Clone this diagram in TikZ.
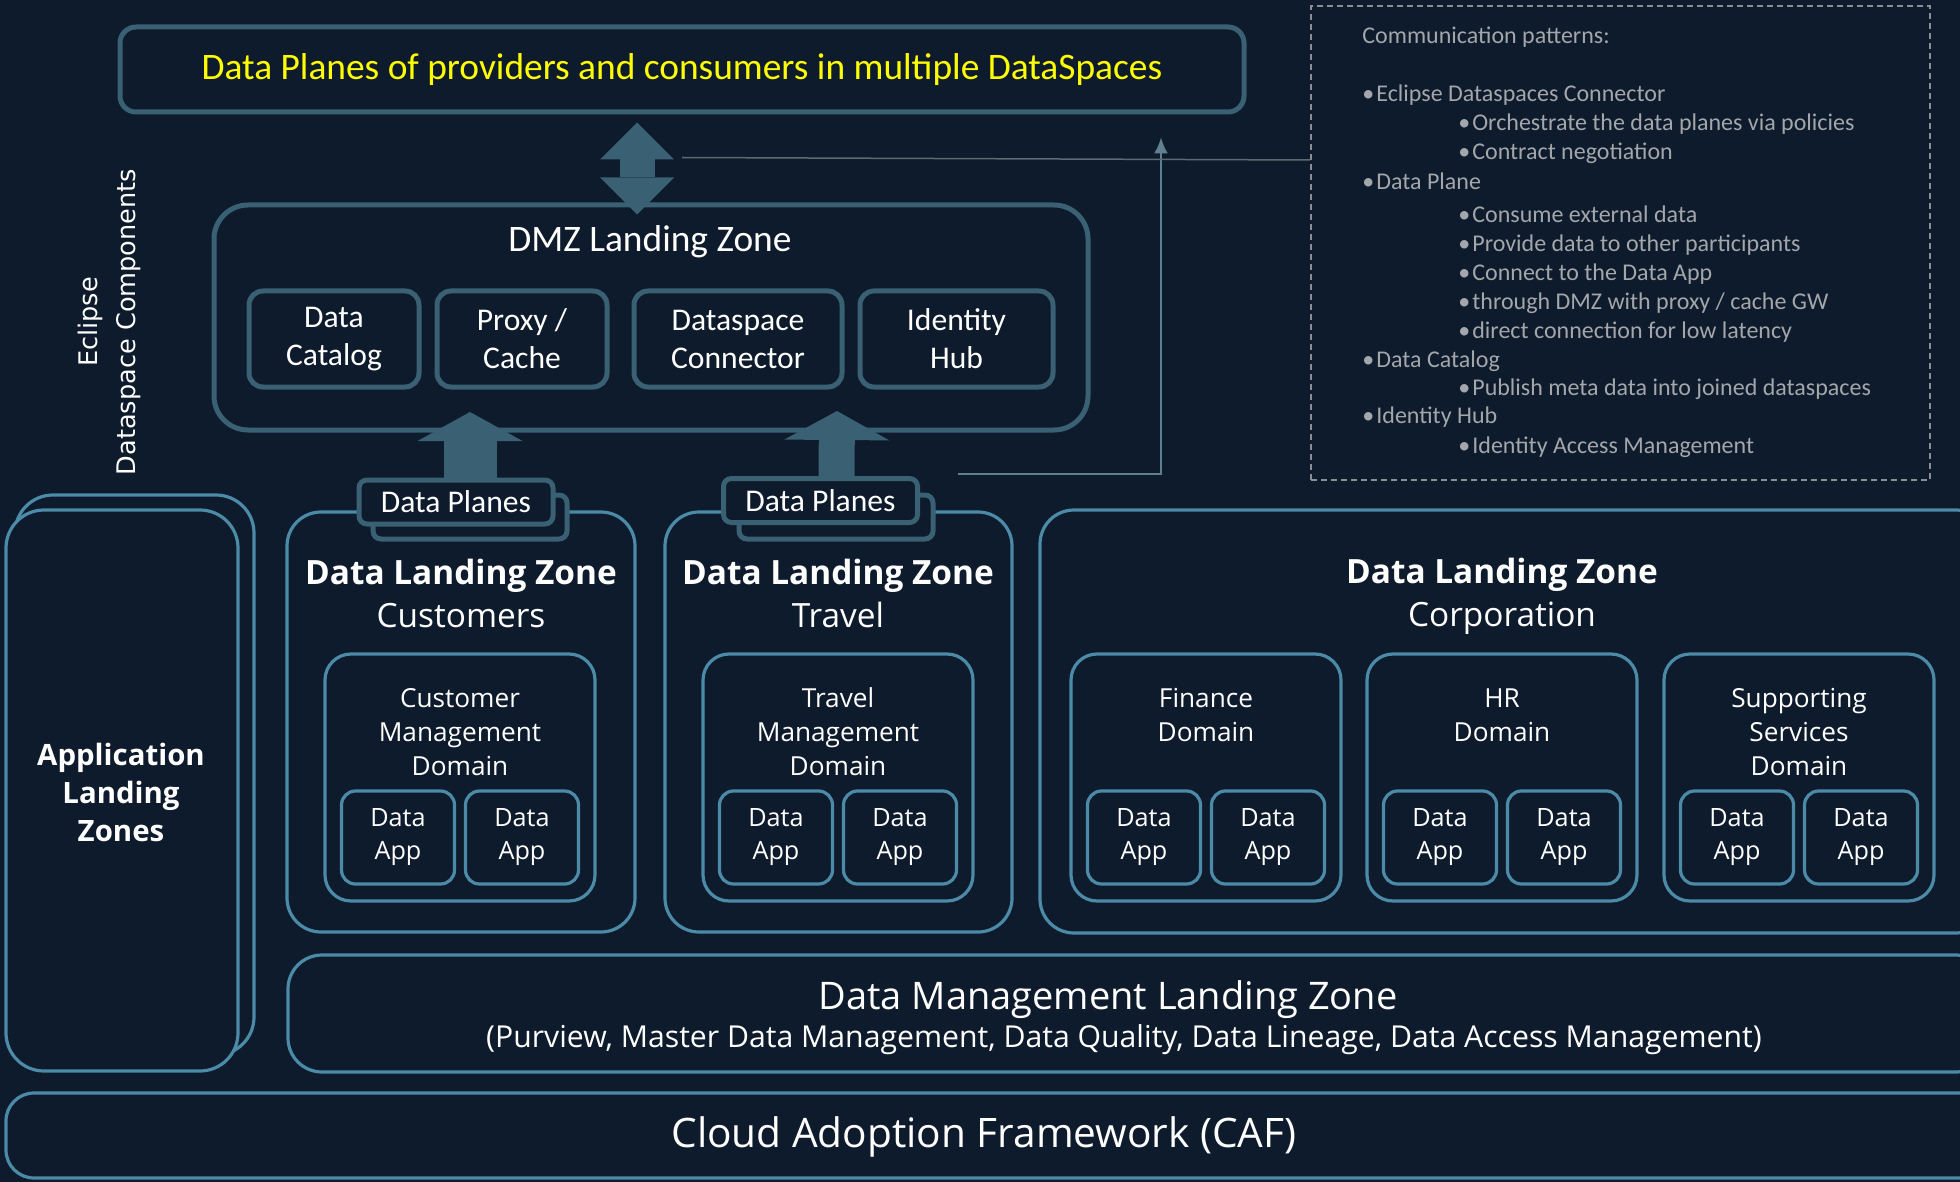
\documentclass[tikz,border=0pt]{standalone}
\usepackage{fontspec}
\setmainfont{Carlito}
\newfontfamily\segoe{Open Sans}
\newfontfamily\dejavu{DejaVu Sans}
\usetikzlibrary{arrows.meta}

\definecolor{bgnavy}{HTML}{0E1B2C}
\definecolor{boxteal}{HTML}{3A6073}
\definecolor{glowblue}{HTML}{4C8BA8}
\definecolor{notegrey}{HTML}{A3A6AA}
\definecolor{dashgrey}{HTML}{8A8F96}
\definecolor{linegrey}{HTML}{5C6A74}
\definecolor{planeyellow}{HTML}{FFFF00}

\pgfdeclarelayer{back}
\pgfsetlayers{back,main}

\tikzset{
  topbox/.style={draw=boxteal, line width=2.5pt, rounded corners=8pt, fill=bgnavy, inner sep=0pt},
  compbox/.style={draw=boxteal, line width=2.5pt, rounded corners=7pt, fill=bgnavy, inner sep=0pt,
    minimum height=48pt, text=white, align=center, font=\fontsize{15.8}{19}\selectfont},
  planebox/.style={draw=boxteal, line width=2.5pt, rounded corners=4pt, fill=bgnavy, inner sep=0pt,
    minimum width=97pt, minimum height=22pt, text=white, font=\fontsize{15.8}{19}\selectfont},
  zonebox/.style={draw=glowblue, line width=1.6pt, rounded corners=17pt, fill=bgnavy, inner sep=0pt},
  dombox/.style={draw=glowblue, line width=1.6pt, rounded corners=13pt, fill=bgnavy, inner sep=0pt,
    minimum width=135pt, minimum height=123.5pt},
  appbox/.style={draw=glowblue, line width=1.6pt, rounded corners=7pt, fill=bgnavy, inner sep=0pt,
    minimum width=56.5pt, minimum height=46.5pt, text=white, align=center,
    font=\segoe\fontsize{12.6}{16.5}\selectfont},
  zonetext/.style={text=white, align=center, inner sep=0pt},
  notetext/.style={text=notegrey, anchor=west, inner sep=0pt, font=\fontsize{12}{14}\selectfont},
  blockarrow/.style={draw=boxteal, -{Triangle[width=52.5pt, length=14.5pt, line width=0pt]}},
  dblarrow/.style={draw=boxteal, line width=17.5pt,
    {Triangle[width=37pt, length=18.5pt, line width=0pt]}-{Triangle[width=37pt, length=18.5pt, line width=0pt]}},
}

\begin{document}
\begin{tikzpicture}[x=0.5pt, y=-0.5pt]
	\begin{pgfonlayer}{back}
		\fill [bgnavy] (0,0) rectangle (1960,1182);
	\end{pgfonlayer}
	\useasboundingbox (0,0) rectangle (1960,1182);
	\clip (0,0) rectangle (1960,1182);

	% data planes in the dataspaces
	\node [topbox, minimum width=562pt, minimum height=42.5pt, text=planeyellow,
		font=\fontsize{18.7}{22}\selectfont] (planes) at (682,69.5)
		{Data Planes of providers and consumers in multiple DataSpaces};

	% DMZ landing zone
	\node [topbox, fill=none, rounded corners=17pt, minimum width=437pt, minimum height=112.5pt] (dmz) at (651,317.5) {};
	\node [text=white, font=\fontsize{18.7}{22}\selectfont] (dmztitle) at (650,242) {DMZ Landing Zone};

	\foreach \name/\cx/\w/\txt in {catalog/334/85/{Data\\Catalog}, proxy/522/85/{Proxy /\\Cache},
		connector/738/104/{Dataspace\\Connector}, hub/956.5/96.5/{Identity\\Hub}}
	{
		\node [compbox, minimum width=\w pt] (\name) at (\cx,339) {\txt};
	}

	\node [text=white, rotate=90, align=center, font=\dejavu\fontsize{12.8}{19}\selectfont] (eclipse) at (109,322)
		{Eclipse\\Dataspace Components};

	\draw [dblarrow] ([xshift=-22.5pt,yshift=-4pt]planes.south) -- ([xshift=-7pt,yshift=-6pt]dmz.north);

	% application landing zones
	\node [zonebox, rounded corners=19pt, fill=none, minimum width=119.5pt, minimum height=280pt] (appzoneback) at (134.5,775) {};
	\node [zonebox, rounded corners=19pt, minimum width=116pt, minimum height=280.5pt] (appzone) at (122,790.5) {};
	\node [zonetext, font=\segoe\bfseries\fontsize{14.7}{19}\selectfont] (appzonetext) at (121,792)
		{Application\\Landing\\Zones};

	% data landing zones
	\node [zonebox, minimum width=174pt, minimum height=210pt] (custzone) at (461,722) {};
	\node [zonebox, minimum width=173.5pt, minimum height=210pt] (travzone) at (838.5,722) {};
	\node [zonebox, minimum width=475pt, minimum height=211.5pt] (corpzone) at (1515,721.5) {};

	\foreach \zone/\cx/\ty/\sub in {cust/461/593/Customers, trav/838/593/Travel, corp/1502/596/Corporation}
	{
		\node [zonetext, font=\segoe\fontsize{16.7}{21.5}\selectfont] (\zone title) at (\cx,\ty)
			{\textbf{Data Landing Zone}\\\sub};
	}

	\foreach \dom/\cx/\txt/\ty in {custdom/460/{Customer\\Management\\Domain}/732,
		travdom/838/{Travel\\Management\\Domain}/732, findom/1206/{Finance\\Domain}/715,
		hrdom/1502/{HR\\Domain}/715, supdom/1799/{Supporting\\Services\\Domain}/732}
	{
		\node [dombox] (\dom) at (\cx,777.5) {};
		\node [zonetext, font=\segoe\fontsize{13.1}{17}\selectfont] (\dom text) at (\cx,\ty) {\txt};
		\node [appbox] (\dom-a) at (\cx-62,837.5) {Data\\App};
		\node [appbox] (\dom-b) at (\cx+62,837.5) {Data\\App};
	}

	% data management and CAF
	\node [zonebox, minimum width=851pt, minimum height=58.5pt] (dmlz) at (1139,1013.5) {};
	\node [zonetext, font=\segoe\fontsize{19}{22}\selectfont] (dmlztitle) at (1108,1000) {Data Management Landing Zone};
	\node [zonetext, font=\segoe\fontsize{15.1}{18}\selectfont] (dmlzsub) at (1124,1040)
		{(Purview, Master Data Management, Data Quality, Data Lineage, Data Access Management)};

	\node [zonebox, rounded corners=14pt, minimum width=992pt, minimum height=42.5pt] (caf) at (998,1135.5) {};
	\node [zonetext, font=\segoe\fontsize{20.3}{24}\selectfont] (caftext) at (984,1137) {Cloud Adoption Framework (CAF)};

	% data planes into the DMZ
	\node [planebox] (dp1back) at (470,517) {};
	\node [planebox] (dp1) at (456,502) {Data Planes};
	\node [planebox] (dp2back) at (836,517) {};
	\node [planebox] (dp2) at (820.5,500.5) {Data Planes};

	\coordinate (dp1tip) at (470,412);
	\coordinate (dp2tip) at (837,411);
	\begin{pgfonlayer}{back}
		\draw [blockarrow, line width=26.5pt] ([xshift=7pt]dp1.north) -- (dp1tip);
		\draw [blockarrow, line width=18pt] ([xshift=8pt]dp2.north) -- (dp2tip);
	\end{pgfonlayer}

	\draw [boxteal!80!white, line width=1pt, -{Latex[width=7pt, length=8pt]}]
		([xshift=19pt,yshift=1pt]dp2.north east) -| ([xshift=239.5pt,yshift=-11.5pt]planes.south);

	% communication patterns
	\node [draw=dashgrey, line width=0.75pt, dash pattern=on 3pt off 2pt, inner sep=0pt,
		minimum width=309.5pt, minimum height=237pt] (notes) at (1620.5,243) {};
	\draw [linegrey, line width=0.75pt] ([yshift=-21.5pt]planes.south) -- ([yshift=41.5pt]notes.west);

	\node [notetext] (notehead) at (1362,37) {Communication patterns:};
	\foreach \y/\x/\t [count=\i] in {95/1362/{Eclipse Dataspaces Connector},
		124/1458/{Orchestrate the data planes via policies}, 153/1458/{Contract negotiation},
		181/1362/{Data Plane}, 214/1458/{Consume external  data}, 245/1458/{Provide data to other participants},
		274/1458/{Connect to the Data App}, 303/1458/{through DMZ with proxy / cache GW},
		332/1458/{direct connection for low latency}, 361/1362/{Data Catalog},
		389/1458/{Publish meta data into joined dataspaces}, 417/1362/{Identity Hub},
		447/1458/{Identity Access Management}}
	{
		\node [notetext] (note\i) at (\x,\y) {\textbullet\hspace{1pt}\t};
	}
\end{tikzpicture}
\end{document}
